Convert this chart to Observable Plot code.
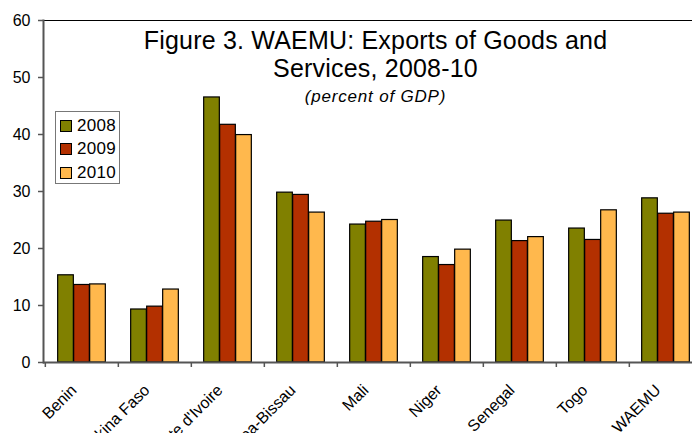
<!DOCTYPE html>
<html>
<head>
<meta charset="utf-8">
<script src="https://cdn.jsdelivr.net/npm/d3@7"></script>
<script src="https://cdn.jsdelivr.net/npm/@observablehq/plot@0.6"></script>
<style>
  html, body { margin: 0; padding: 0; background: #fff; overflow: hidden; }
  #wrap { position: relative; width: 692px; height: 433px; }
  #legend {
    position: absolute; left: 55px; top: 111px; width: 65px; height: 73px;
    border: 1px solid #777; background: #fff; box-sizing: border-box;
    font-family: "Liberation Sans", Arial, sans-serif; font-size: 17px; color: #000;
    padding-top: 2px; letter-spacing: 0.3px;
  }
  #legend .row { display: flex; align-items: center; height: 23.5px; padding-left: 4px; }
  #legend .sw { width: 10px; height: 10px; border: 1px solid #000; margin-right: 5px; }
</style>
</head>
<body>
<div id="wrap"><div id="legend"></div></div>
<script>
const categories = ["Benin", "Burkina Faso", "Côte d'Ivoire", "Guinea-Bissau", "Mali", "Niger", "Senegal", "Togo", "WAEMU"];
const years = ["2008", "2009", "2010"];
const values2008 = [15.3, 9.3, 46.5, 29.8, 24.2, 18.5, 24.9, 23.5, 28.8];
const values2009 = [13.6, 9.8, 41.7, 29.4, 24.7, 17.1, 21.3, 21.5, 26.1];
const values2010 = [13.7, 12.8, 39.9, 26.3, 25.0, 19.8, 22.0, 26.7, 26.3];
const colors = ["#808000", "#B33000", "#FFB84D"];
const yTicks = [0, 10, 20, 30, 40, 50, 60];
const titleLines = ["Figure 3. WAEMU: Exports of Goods and", "Services, 2008-10"];
const subtitle = "(percent of GDP)";

const series = [values2008, values2009, values2010];
const width = 692, height = 433;
const marginLeft = 43, marginRight = -11, marginTop = 20, marginBottom = 71;
const band = (width - marginLeft - marginRight) / categories.length;
const barW = 16;
const inset = (band - barW) / 2;
const font = "'Liberation Sans', Arial, sans-serif";

const barMarks = series.map((vals, i) =>
  Plot.barY(categories.map((c, j) => ({category: c, value: vals[j]})), {
    x: "category", y: "value", fill: colors[i], stroke: "#000", strokeWidth: 1.2,
    insetLeft: inset, insetRight: inset, dx: (i - 1) * barW
  })
);

const chart = Plot.plot({
  width, height, marginLeft, marginRight, marginTop, marginBottom,
  style: {fontFamily: font, background: "#fff", overflow: "hidden"},
  x: {domain: categories, padding: 0, label: null},
  y: {domain: [0, 60], label: null},
  marks: [
    ...barMarks,
    Plot.ruleY([60], {stroke: "#000", strokeWidth: 1.2}),
    Plot.ruleY([0], {stroke: "#555", strokeWidth: 2}),
    Plot.frame({anchor: "left", stroke: "#555", strokeWidth: 2}),
    Plot.axisY({ticks: yTicks, tickSize: 5, tickPadding: 8, fontSize: 16, stroke: "#555", strokeWidth: 1.5, label: null, fill: "#000"}),
    Plot.axisX({tickSize: 5, dx: -band / 2, tickFormat: () => "", stroke: "#555", strokeWidth: 1.5, label: null}),
    Plot.axisX({tickSize: 0, tickPadding: 25, dx: -8, tickRotate: -45, fontSize: 16, label: null, fill: "#000"}),
    Plot.text([titleLines[0]], {frameAnchor: "top", lineAnchor: "middle", dx: 2, dy: 20.6, fontSize: 25, fill: "#000"}),
    Plot.text([titleLines[1]], {frameAnchor: "top", lineAnchor: "middle", dx: 2, dy: 48.6, fontSize: 25, fill: "#000"}),
    Plot.text([subtitle], {frameAnchor: "top", lineAnchor: "middle", dx: 2, dy: 76, fontSize: 17, fontStyle: "italic", fill: "#000"})
  ]
});
const wrap = document.getElementById("wrap");
wrap.insertBefore(chart, wrap.firstChild);

// horizontal spacing of the title texts, matching the reference's wider lettering
d3.select(chart).selectAll("text").each(function() {
  const t = this.textContent;
  if (t === titleLines[0] || t === titleLines[1]) this.style.letterSpacing = "0.2px";
  if (t === subtitle) this.style.letterSpacing = "0.8px";
});

const legend = document.getElementById("legend");
years.forEach((y, i) => {
  const row = document.createElement("div");
  row.className = "row";
  const sw = document.createElement("span");
  sw.className = "sw";
  sw.style.background = colors[i];
  const t = document.createElement("span");
  t.textContent = y;
  row.appendChild(sw); row.appendChild(t);
  legend.appendChild(row);
});
</script>
</body>
</html>
